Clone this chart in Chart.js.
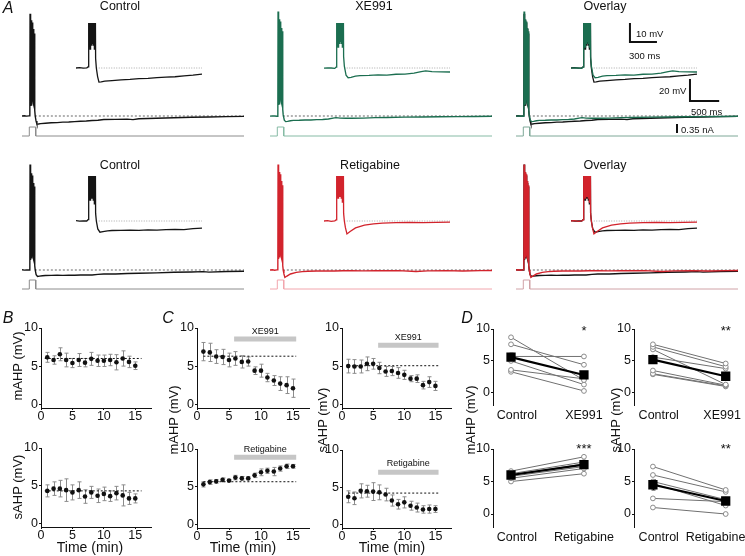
<!DOCTYPE html>
<html>
<head>
<meta charset="utf-8">
<script src="https://cdn.jsdelivr.net/npm/chart.js@4.4.0/dist/chart.umd.min.js"></script>
<style>
body { margin: 0; background: #fff; }
#fig { position: relative; width: 745px; height: 556px; overflow: hidden; font-family: "Liberation Sans", Arial, sans-serif; color: #111; }
#fig canvas { position: absolute; }
.t { position: absolute; white-space: nowrap; transform: translate(-50%, -50%); font-size: 12.5px; }
.rot { transform: translate(-50%, -50%) rotate(-90deg); font-size: 13px; }
.let { font-size: 16px; font-style: italic; }
.sb { position: absolute; white-space: nowrap; transform: translateY(-50%); font-size: 9.5px; }
</style>
</head>
<body>
<div id="fig"></div>
<script>
// ---------- A: example traces, [time (ms), membrane potential (mV)] ----------
const restMV = -65;
const stimTrace = [[0, 0], [125, 0], [125, 0.35], [235, 0.35], [235, 0], [3800, 0]]; // nA
const ctrlTopTrace = [[0,-65.0],[40,-64.8],[80,-65.1],[120,-64.9],[134,-64.4],
  [138,28],[144,-56],[150,24],[156,-55],[162,22],[168,-53],[174,20],[180,-52],[186,17],[192,-53],[198,14],[204,-55],[210,10],[218,-60],[226,-65],
  [240,-69.5],[255,-72.4],[280,-72.3],[320,-71.9],[400,-71.6],[500,-71.2],[600,-71.0],[700,-70.6],[800,-70.5],[900,-70.1],[1000,-69.8],
  [1100,-69.6],[1200,-69.1],[1300,-68.8],[1400,-68.2],[1600,-68.1],[1800,-67.8],[1900,-68.3],[2000,-67.5],[2300,-67.1],[2600,-66.6],
  [2900,-66.2],[3200,-65.9],[3500,-65.6],[3800,-65.3]];
const xe991Trace = [[0,-65.1],[40,-64.9],[80,-65.0],[120,-65.2],[134,-64.5],
  [138,30],[144,-55],[150,25],[156,-54],[162,23],[168,-52],[174,21],[180,-51],[186,18],[192,-52],[198,15],[204,-54],[210,12],[218,-59],[226,-64],
  [245,-68.8],[268,-70.1],[300,-69.9],[350,-69.3],[400,-69.0],[500,-68.9],[600,-68.6],[700,-68.7],[800,-68.3],[900,-68.2],[1000,-67.7],
  [1080,-66.9],[1130,-66.5],[1200,-66.9],[1300,-67.0],[1400,-67.1],[1600,-66.9],[1800,-66.5],[2000,-66.4],[2300,-66.0],[2600,-65.9],
  [2900,-65.7],[3200,-65.6],[3500,-65.4],[3800,-65.2]];
const ctrlBottomTrace = [[0,-64.8],[40,-65.1],[80,-64.9],[120,-65.0],[134,-64.3],
  [138,31],[144,-56],[150,26],[156,-54],[162,23],[168,-53],[174,21],[180,-53],[186,18],[192,-54],[198,14],[204,-56],[210,11],[218,-61],[226,-65],
  [242,-69.2],[266,-70.9],[300,-70.6],[350,-70.2],[400,-70.0],[500,-69.9],[600,-69.8],[700,-69.9],[800,-69.7],[900,-69.8],[1000,-69.5],
  [1100,-69.4],[1200,-69.5],[1300,-69.0],[1400,-68.7],[1600,-68.6],[1800,-68.2],[2000,-67.9],[2300,-67.6],[2600,-67.1],[2900,-66.8],
  [3100,-66.5],[3200,-66.9],[3500,-66.3],[3800,-66.2]];
const retigabineTrace = [[0,-65.0],[40,-64.8],[80,-65.2],[120,-64.9],[134,-64.4],
  [138,31],[144,-55],[150,27],[156,-53],[162,24],[168,-52],[174,22],[180,-52],[186,19],[192,-53],[198,16],[204,-55],[210,12],[218,-61],[226,-65],
  [238,-68.5],[255,-71.8],[290,-70.5],[350,-68.6],[450,-67.2],[550,-66.5],[650,-66.1],[800,-65.9],[950,-65.8],[1100,-65.9],[1250,-65.7],
  [1400,-65.6],[1600,-65.8],[1800,-65.6],[2000,-65.7],[2200,-65.6],[2500,-66.3],[2700,-65.8],[3000,-65.6],[3300,-65.9],[3600,-65.6],[3800,-65.5]];

// ---------- B, C: time courses (min) ----------
const minutes = [1, 2, 3, 4, 5, 6, 7, 8, 9, 10, 11, 12, 13, 14, 15];
const timeTicks = [0, 5, 10, 15];
const drugPeriod = [5.8, 15.5];
const bMahp = [6.15, 5.8, 6.55, 5.8, 5.4, 5.8, 5.45, 5.95, 5.7, 5.7, 5.8, 5.5, 6.0, 5.55, 5.05];
const bMahpErr = [0.65, 0.55, 0.85, 0.9, 0.6, 0.85, 0.55, 0.85, 0.75, 0.75, 0.75, 1.0, 1.0, 0.75, 0.5];
const bSahp = [4.3, 4.6, 4.6, 4.4, 4.1, 4.4, 3.55, 4.1, 3.65, 3.9, 3.6, 4.0, 3.7, 3.3, 3.3];
const bSahpErr = [0.8, 0.9, 1.1, 1.5, 1.0, 1.1, 0.9, 0.8, 0.9, 0.9, 0.7, 0.9, 1.4, 0.8, 0.6];
const cMahpXE = [6.9, 6.8, 6.25, 6.2, 5.8, 6.0, 5.55, 5.6, 4.4, 4.4, 3.5, 3.1, 2.7, 2.5, 2.1];
const cMahpXEErr = [1.2, 1.2, 0.9, 1.0, 0.9, 0.9, 0.8, 0.6, 0.5, 0.85, 0.55, 0.65, 0.9, 1.1, 1.2];
const cSahpXE = [5.0, 4.95, 4.95, 5.3, 5.3, 4.75, 4.3, 4.35, 4.1, 3.85, 3.35, 3.35, 2.5, 2.9, 2.4];
const cSahpXEErr = [0.9, 0.9, 0.85, 0.9, 0.7, 0.75, 0.65, 0.6, 0.7, 0.6, 0.4, 0.5, 0.5, 0.7, 0.6];
const cMahpRet = [5.3, 5.6, 5.7, 5.9, 5.8, 6.2, 6.1, 6.1, 6.5, 6.9, 7.1, 7.0, 7.4, 7.7, 7.7];
const cMahpRetErr = [0.35, 0.3, 0.25, 0.25, 0.15, 0.3, 0.25, 0.2, 0.3, 0.45, 0.35, 0.55, 0.35, 0.3, 0.25];
const cSahpRet = [3.7, 3.5, 4.5, 4.45, 4.4, 4.3, 4.0, 3.2, 2.7, 2.95, 2.5, 2.25, 2.0, 2.05, 2.05];
const cSahpRetErr = [0.8, 0.85, 0.95, 0.8, 1.2, 1.0, 0.85, 0.75, 0.65, 0.75, 0.6, 0.6, 0.5, 0.55, 0.45];
// baseline (first 5 min) levels
const baseLevels = { bMahp: 6.0, bSahp: 4.3, cMahpXE: 6.3, cSahpXE: 5.05, cMahpRet: 5.65, cSahpRet: 4.2 };

// ---------- D: paired cells ----------
const xeLabels = ['Control', 'XE991'];
const retLabels = ['Control', 'Retigabine'];
const dMahpXECtrl = [8.7, 7.6, 5.7, 5.0, 3.6, 3.3];
const dMahpXEDrug = [2.0, 4.4, 5.7, 1.3, 2.2, 0.3];
const dMahpXEMean = [5.6, 2.8], dMahpXESem = [0.6, 0.5];
const dMahpRetCtrl = [6.6, 6.2, 6.0, 5.8, 5.5, 5.0];
const dMahpRetDrug = [8.8, 8.0, 7.7, 7.3, 7.0, 6.2];
const dMahpRetMean = [6.0, 7.6], dMahpRetSem = [0.3, 0.35];
const dSahpXECtrl = [7.6, 7.2, 6.8, 5.6, 3.5, 3.0, 2.9];
const dSahpXEDrug = [4.6, 4.1, 1.3, 3.8, 1.2, 1.1, 1.0];
const dSahpXEMean = [5.2, 2.6], dSahpXESem = [0.6, 0.5];
const dSahpRetCtrl = [7.3, 6.0, 5.0, 4.7, 2.4, 1.0];
const dSahpRetDrug = [3.7, 3.4, 2.2, 1.3, 1.9, 0.0];
const dSahpRetMean = [4.5, 2.0], dSahpRetSem = [0.8, 0.4];

// ---------- setup ----------
const fig = document.getElementById('fig');
Chart.defaults.font.family = '"Liberation Sans", Arial, sans-serif';
Chart.defaults.color = '#111';
Chart.defaults.animation = false;
Chart.defaults.responsive = false;
Chart.defaults.devicePixelRatio = 1;
Chart.defaults.events = [];
Chart.defaults.plugins.legend.display = false;
Chart.defaults.plugins.tooltip.enabled = false;

function addCanvas(left, top, w, h) {
  const c = document.createElement('canvas');
  c.width = w; c.height = h;
  c.style.left = left + 'px'; c.style.top = top + 'px';
  c.style.width = w + 'px'; c.style.height = h + 'px';
  fig.appendChild(c);
  return c;
}
function text(str, x, y, cls) {
  const d = document.createElement('div');
  d.className = cls || 't';
  d.textContent = str;
  d.style.left = x + 'px'; d.style.top = y + 'px';
  fig.appendChild(d);
  return d;
}

// error bars drawn under the points
const errorBars = {
  id: 'errorBars',
  beforeDatasetsDraw(chart) {
    const { ctx, scales: { x, y } } = chart;
    chart.data.datasets.forEach(ds => {
      if (!ds.err) return;
      ctx.save();
      ctx.strokeStyle = ds.errColor || '#8c8c8c';
      ctx.lineWidth = 1;
      ds.data.forEach((p, i) => {
        const px = Math.round(x.getPixelForValue(p.x)) + 0.5;
        const top = y.getPixelForValue(p.y + ds.err[i]);
        const bot = y.getPixelForValue(p.y - ds.err[i]);
        ctx.beginPath();
        ctx.moveTo(px, top); ctx.lineTo(px, bot);
        ctx.moveTo(px - 2, top); ctx.lineTo(px + 2, top);
        ctx.moveTo(px - 2, bot); ctx.lineTo(px + 2, bot);
        ctx.stroke();
      });
      ctx.restore();
    });
  }
};
// text at data coordinates
function notes(items) {
  return {
    id: 'notes',
    afterDatasetsDraw(chart) {
      const { ctx, scales: { x, y } } = chart;
      ctx.save();
      ctx.fillStyle = '#111';
      ctx.textAlign = 'center';
      ctx.textBaseline = 'middle';
      items.forEach(n => {
        ctx.font = n.font;
        ctx.fillText(n.text, x.getPixelForValue(n.x), y.getPixelForValue(n.y));
      });
      ctx.restore();
    }
  };
}

// ---------- A ----------
const MAIN = { w: 222, ms: 3800, pxPerMV: 1.1, pxPerNA: 9 / 0.35 };
const INSET = { w: 126, ms: 1400, pxPerMV: 1.9, up: 45, h: 66 };
const rows = [
  { top: 8, h: 134, base: 116, stim: 136, inset: 68 },
  { top: 158, h: 135, base: 270, stim: 289, inset: 221 }
];
const cols = [{ x: 22, inX: 76 }, { x: 270, inX: 324 }, { x: 516, inX: 571 }];

function traceChart(left, top, w, h, xr, yr, ir, datasets) {
  const scales = {
    x: { type: 'linear', display: false, min: xr[0], max: xr[1] },
    y: { display: false, min: yr[0], max: yr[1] }
  };
  if (ir) scales.yI = { display: false, min: ir[0], max: ir[1] };
  return new Chart(addCanvas(left, top, w, h), {
    type: 'line',
    data: { datasets },
    options: {
      layout: { padding: 0 },
      scales,
      elements: { point: { radius: 0 }, line: { tension: 0, borderWidth: 1.4 } }
    }
  });
}

function cell(col, row, traces, stimColor, bars) {
  const yMax = restMV + (row.base - row.top) / MAIN.pxPerMV;
  const iMax = (row.stim - row.top) / MAIN.pxPerNA;
  const sets = traces.map(t => ({ data: t.data, borderColor: t.color }));
  sets.push({ data: [[220, restMV], [MAIN.ms, restMV]], borderColor: '#555', borderWidth: 0.9, borderDash: [2, 2] });
  sets.push({ data: stimTrace, borderColor: stimColor, borderWidth: 1, yAxisID: 'yI' });
  (bars ? bars.main : []).forEach(b => sets.push(b));
  traceChart(col.x, row.top, MAIN.w, row.h, [0, MAIN.ms],
    [yMax - row.h / MAIN.pxPerMV, yMax], [iMax - row.h / MAIN.pxPerNA, iMax], sets);

  // magnified inset of the first 1.4 s, spikes clipped
  const inTop = row.inset - INSET.up;
  const inMax = restMV + INSET.up / INSET.pxPerMV;
  const iSets = traces.map(t => ({ data: t.data, borderColor: t.color, borderWidth: 1.3 }));
  iSets.push({ data: [[225, restMV], [INSET.ms, restMV]], borderColor: '#aaa', borderWidth: 1, borderDash: [1, 1.5] });
  (bars ? bars.inset : []).forEach(b => iSets.push(b));
  traceChart(col.inX, inTop, INSET.w, INSET.h, [0, INSET.ms],
    [inMax - INSET.h / INSET.pxPerMV, inMax], null, iSets);
}

const black = '#141414', green = '#1b6e50', red = '#d2232c';
const barStyle = { borderColor: '#111', borderWidth: 2, clip: false, borderJoinStyle: 'miter' };
cell(cols[0], rows[0], [{ data: ctrlTopTrace, color: black }], '#8c8c8c');
cell(cols[1], rows[0], [{ data: xe991Trace, color: green }], '#86bba5');
cell(cols[2], rows[0], [{ data: xe991Trace, color: green }, { data: ctrlTopTrace, color: black }], '#7ea898', {
  main: [
    Object.assign({ data: [[2978, -31.4], [2978, -51.4], [3478, -51.4]] }, barStyle),          // 20 mV, 500 ms
    Object.assign({ data: [[2756, 0.117], [2756, 0.467]], yAxisID: 'yI' }, barStyle)            // 0.35 nA
  ],
  inset: [
    Object.assign({ data: [[655, -41.3], [655, -51.3], [955, -51.3]] }, barStyle)              // 10 mV, 300 ms
  ]
});
cell(cols[0], rows[1], [{ data: ctrlBottomTrace, color: black }], '#8c8c8c');
cell(cols[1], rows[1], [{ data: retigabineTrace, color: red }], '#f2a6ad');
cell(cols[2], rows[1], [{ data: retigabineTrace, color: red }, { data: ctrlBottomTrace, color: black }], '#d0a2a7');

// ---------- B, C, D ----------
function statChart(area, xr, yr, datasets, opt) {
  const padL = 4, padR = 34, padT = 10, padB = 4, yW = 24, xH = opt.xH || 19;
  const w = padL + yW + (area.r - area.l) + padR;
  const h = padT + (area.b - area.t) + xH + padB;
  const axisLine = { display: true, color: '#111', width: 1 };
  return new Chart(addCanvas(area.l - yW - padL, area.t - padT, w, h), {
    type: 'line',
    data: { datasets },
    options: {
      layout: { padding: { left: padL, right: padR, top: padT, bottom: padB } },
      scales: {
        x: {
          type: 'linear', min: xr[0], max: xr[1],
          border: opt.cat ? { display: false } : axisLine,
          grid: { display: !opt.cat, drawOnChartArea: false, tickLength: 2, color: '#111' },
          ticks: { font: { size: opt.cat ? 12.5 : 12.5 }, padding: opt.cat ? 1 : -1, maxRotation: 0, autoSkip: false,
                   callback: opt.cat ? (v, i) => opt.cat[i] : v => v },
          afterBuildTicks: s => { s.ticks = (opt.cat ? opt.catPos : timeTicks).map(v => ({ value: v })); },
          afterFit: s => { s.height = xH; }
        },
        y: {
          min: yr[0], max: yr[1],
          border: axisLine,
          grid: { drawOnChartArea: false, tickLength: 2, color: '#111' },
          ticks: { font: { size: 12.5 }, padding: 1 },
          afterBuildTicks: s => { s.ticks = [0, 5, 10].map(v => ({ value: v })); },
          afterFit: s => { s.width = yW; }
        }
      }
    },
    plugins: [errorBars, notes(opt.notes || [])]
  });
}

function timeSets(values, errs, base, win, barLevel) {
  const sets = [
    { data: values.map((v, i) => ({ x: minutes[i], y: v })), err: errs, showLine: false,
      pointRadius: 2.3, pointBackgroundColor: '#111', pointBorderWidth: 0, order: 0 },
    { data: win.map(t => ({ x: t, y: base })), borderColor: '#111', borderWidth: 1, borderDash: [2, 2], pointRadius: 0, order: 1 }
  ];
  if (barLevel != null) sets.push({ data: drugPeriod.map(t => ({ x: t, y: barLevel })), borderColor: '#c6c6c6',
    borderWidth: 5, pointRadius: 0, order: 2 });
  return sets;
}
function pairSets(ctrl, drug, mean, sem) {
  const sets = [{ data: mean.map((m, i) => ({ x: i, y: m })), err: sem, errColor: '#000', borderColor: '#000', borderWidth: 2.2,
    pointStyle: 'rect', pointRadius: 5, pointBackgroundColor: '#000', pointBorderColor: '#000', order: 0 }];
  ctrl.forEach((c, i) => sets.push({ data: [{ x: 0, y: c }, { x: 1, y: drug[i] }], borderColor: '#707070', borderWidth: 1,
    pointRadius: 2.4, pointBackgroundColor: '#fff', pointBorderColor: '#8a8a8a', pointBorderWidth: 1, order: 1 }));
  return sets;
}

const tx = [0, 17.5], ty = [-0.5, 10];
const small = '9px "Liberation Sans", Arial, sans-serif';
statChart({ l: 41, r: 151, t: 328, b: 408 }, tx, ty, timeSets(bMahp, bMahpErr, baseLevels.bMahp, [0.6, 16]), {});
statChart({ l: 41, r: 151, t: 448, b: 527 }, tx, ty, timeSets(bSahp, bSahpErr, baseLevels.bSahp, [0.6, 16]), {});
statChart({ l: 197, r: 309, t: 328, b: 408 }, tx, ty, timeSets(cMahpXE, cMahpXEErr, baseLevels.cMahpXE, [1, 15.5], 8.55),
  { notes: [{ text: 'XE991', x: 10.65, y: 9.5, font: small }] });
statChart({ l: 197, r: 309, t: 449, b: 528 }, tx, ty, timeSets(cMahpRet, cMahpRetErr, baseLevels.cMahpRet, [1, 15.5], 8.9),
  { notes: [{ text: 'Retigabine', x: 10.65, y: 9.9, font: small }] });
statChart({ l: 342, r: 451, t: 328, b: 408 }, tx, ty, timeSets(cSahpXE, cSahpXEErr, baseLevels.cSahpXE, [1, 15.5], 7.75),
  { notes: [{ text: 'XE991', x: 10.65, y: 8.7, font: small }] });
statChart({ l: 342, r: 451, t: 450, b: 528 }, tx, ty, timeSets(cSahpRet, cSahpRetErr, baseLevels.cSahpRet, [1, 15.5], 7.0),
  { notes: [{ text: 'Retigabine', x: 10.65, y: 8.2, font: small }] });

const star = '13px "Liberation Sans", Arial, sans-serif';
statChart({ l: 493, r: 600, t: 329, b: 405 }, [-0.247, 1.22], [-1.9, 10],
  pairSets(dMahpXECtrl, dMahpXEDrug, dMahpXEMean, dMahpXESem),
  { cat: xeLabels, catPos: [0.08, 1.0], notes: [{ text: '*', x: 1, y: 9.6, font: star }] });
statChart({ l: 493, r: 600, t: 449, b: 527 }, [-0.247, 1.22], [-2, 10],
  pairSets(dMahpRetCtrl, dMahpRetDrug, dMahpRetMean, dMahpRetSem),
  { cat: retLabels, catPos: [0.08, 1.0], notes: [{ text: '***', x: 1, y: 9.9, font: star }] });
statChart({ l: 634, r: 741, t: 329, b: 405 }, [-0.26, 1.21], [-1.9, 10],
  pairSets(dSahpXECtrl, dSahpXEDrug, dSahpXEMean, dSahpXESem),
  { cat: xeLabels, catPos: [0.08, 0.95], notes: [{ text: '**', x: 1, y: 9.6, font: star }] });
statChart({ l: 634, r: 741, t: 449, b: 527 }, [-0.26, 1.21], [-2, 10],
  pairSets(dSahpRetCtrl, dSahpRetDrug, dSahpRetMean, dSahpRetSem),
  { cat: retLabels, catPos: [0.08, 0.86], notes: [{ text: '**', x: 1, y: 9.9, font: star }] });

// ---------- text ----------
text('A', 8, 8, 't let'); text('B', 8, 318, 't let'); text('C', 168, 318, 't let'); text('D', 467, 318, 't let');
text('Control', 120, 6); text('XE991', 374, 6); text('Overlay', 605, 6);
text('Control', 120, 165); text('Retigabine', 370, 165); text('Overlay', 605, 165);
text('10 mV', 636, 33, 'sb'); text('300 ms', 629, 55, 'sb');
text('20 mV', 659, 90, 'sb'); text('500 ms', 691, 111, 'sb'); text('0.35 nA', 681, 129, 'sb');
text('mAHP (mV)', 17, 366, 't rot'); text('sAHP (mV)', 17, 487, 't rot');
text('mAHP (mV)', 173, 420, 't rot'); text('sAHP (mV)', 322, 420, 't rot');
text('mAHP (mV)', 470, 420, 't rot'); text('sAHP (mV)', 615, 420, 't rot');
[90, 243, 392].forEach(x => { text('Time (min)', x, 547).style.fontSize = '14px'; });
</script>
</body>
</html>
